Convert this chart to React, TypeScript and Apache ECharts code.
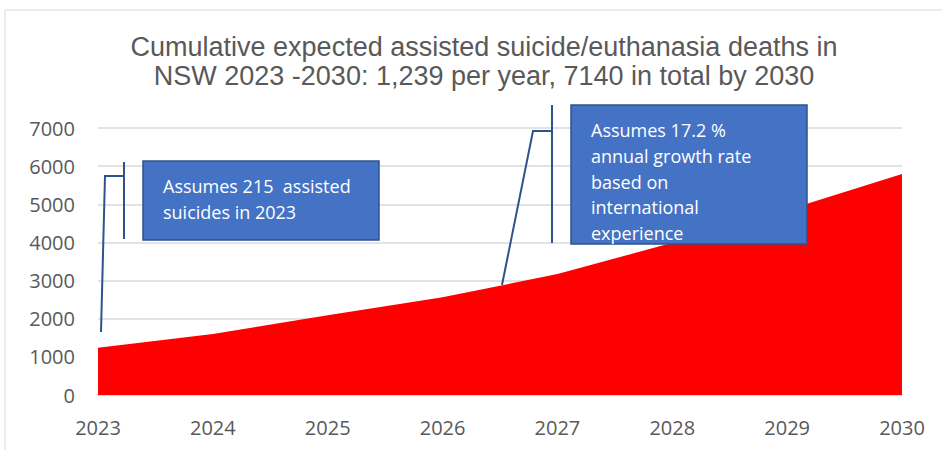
import React, { useEffect, useRef } from "react";
import * as echarts from "echarts";

const years = ["2023", "2024", "2025", "2026", "2027", "2028", "2029", "2030"];
const cumulativeDeaths = [1239, 1600, 2090, 2560, 3170, 3990, 4850, 5794];
const yTicks = { min: 0, max: 7000, interval: 1000 };
const titleLines = [
  "Cumulative expected assisted suicide/euthanasia deaths in",
  "NSW 2023 -2030: 1,239 per year, 7140 in total by 2030",
];
const note1 = ["Assumes 215  assisted", "suicides in 2023"];
const note2 = ["Assumes 17.2 %", "annual growth rate", "based on", "international", "experience"];

const TITLE_FONT = '"Liberation Sans", Arial, sans-serif';
const CAL = '"Open Sans", sans-serif';

export default function App() {
  const ref = useRef<HTMLDivElement>(null);
  useEffect(() => {
    if (!ref.current) return;
    const chart = echarts.init(ref.current, null, { renderer: "svg" });
    const boxStroke = "#2F528F";
    const boxFill = "#4472C4";
    chart.setOption({
      animation: false,
      backgroundColor: "#ffffff",
      grid: { left: 98, right: 40, top: 128, bottom: 55, containLabel: false },
      xAxis: {
        type: "category",
        data: years,
        boundaryGap: false,
        axisLine: { show: true, lineStyle: { color: "#d9d9d9", width: 1.5 } },
        axisTick: { show: false },
        axisLabel: { color: "#595959", fontFamily: CAL, fontSize: 20, margin: 22 },
        splitLine: { show: false },
      },
      yAxis: {
        type: "value",
        min: yTicks.min,
        max: yTicks.max,
        interval: yTicks.interval,
        axisLine: { show: false },
        axisTick: { show: false },
        axisLabel: {
          color: "#595959",
          fontFamily: CAL,
          fontSize: 20,
          margin: 23,
          formatter: (v: number) => String(v),
        },
        splitLine: { lineStyle: { color: "#d9d9d9", width: 1.5 } },
      },
      series: [
        {
          type: "line",
          data: cumulativeDeaths,
          symbol: "none",
          lineStyle: { width: 0 },
          itemStyle: { color: "#ff0000" },
          areaStyle: { color: "#ff0000", opacity: 1 },
          z: 3,
        },
      ],
      graphic: [
        {
          type: "rect",
          shape: { x: 5, y: 10, width: 960, height: 460 },
          style: { fill: "none", stroke: "#d9d9d9", lineWidth: 1 },
          silent: true,
          z: 0,
        },
        {
          type: "text",
          x: 484,
          y: 32,
          style: {
            text: titleLines.join("\n"),
            fontFamily: TITLE_FONT,
            fontSize: 27,
            fill: "#595959",
            align: "center",
            verticalAlign: "top",
            lineHeight: 29,
          },
          z: 10,
        },
        // callout 1
        {
          type: "polyline",
          shape: { points: [[101, 332], [105, 176], [124, 176]] },
          style: { stroke: boxStroke, lineWidth: 2, fill: "none" },
          z: 10,
        },
        {
          type: "line",
          shape: { x1: 124, y1: 162, x2: 124, y2: 239 },
          style: { stroke: boxStroke, lineWidth: 2 },
          z: 10,
        },
        {
          type: "rect",
          shape: { x: 143, y: 161, width: 236, height: 79 },
          style: { fill: boxFill, stroke: boxStroke, lineWidth: 1.5 },
          z: 10,
        },
        {
          type: "text",
          x: 163,
          y: 173,
          style: { text: note1.join("\n"), fontFamily: CAL, fontSize: 18, fill: "#ffffff", lineHeight: 26 },
          z: 11,
        },
        // callout 2
        {
          type: "polyline",
          shape: { points: [[502, 285], [533, 131], [552, 131]] },
          style: { stroke: boxStroke, lineWidth: 2, fill: "none" },
          z: 10,
        },
        {
          type: "line",
          shape: { x1: 552, y1: 105, x2: 552, y2: 243 },
          style: { stroke: boxStroke, lineWidth: 2 },
          z: 10,
        },
        {
          type: "rect",
          shape: { x: 571, y: 105, width: 236, height: 139 },
          style: { fill: boxFill, stroke: boxStroke, lineWidth: 1.5 },
          z: 10,
        },
        {
          type: "text",
          x: 591,
          y: 117,
          style: { text: note2.join("\n"), fontFamily: CAL, fontSize: 18, fill: "#ffffff", lineHeight: 25.8 },
          z: 11,
        },
      ],
    });
    return () => chart.dispose();
  }, []);
  return (
    <div
      ref={ref}
      style={{ position: "absolute", left: 0, top: 0, width: 942, height: 450 }}
    />
  );
}
